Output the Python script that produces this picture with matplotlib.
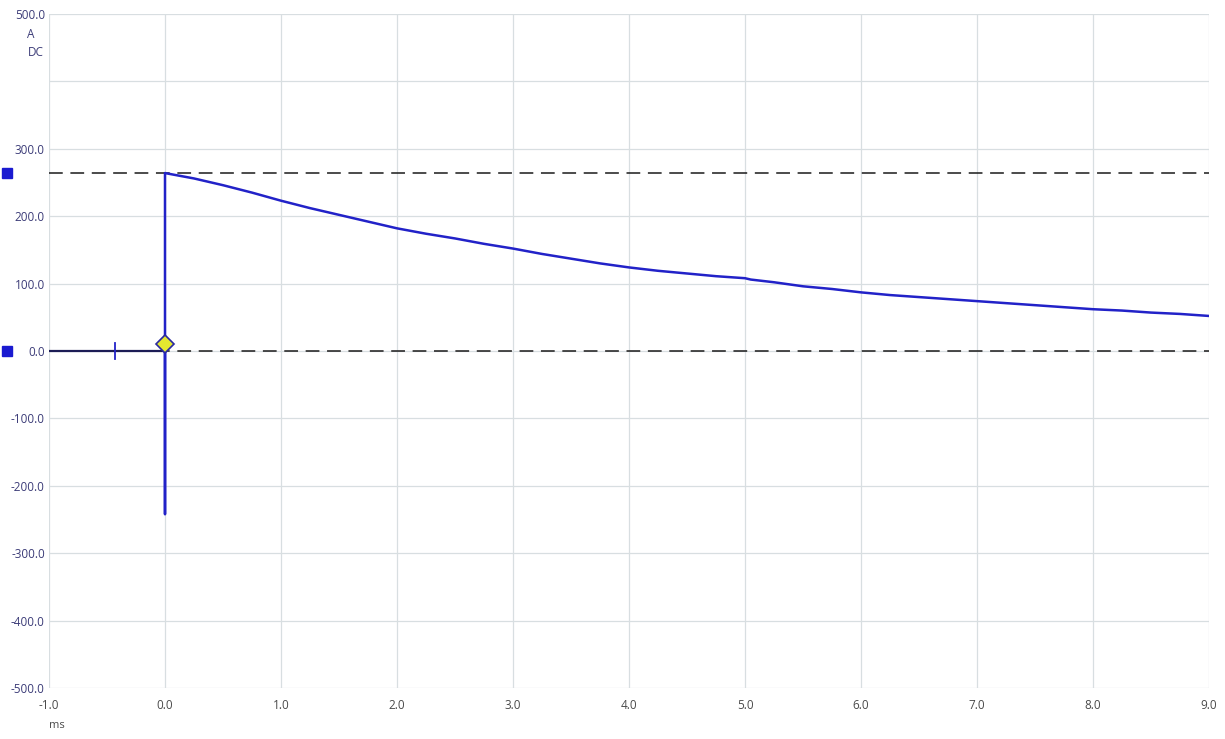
import matplotlib
matplotlib.use("Agg")
import matplotlib.pyplot as plt

plt.rcParams['font.family'] = ['Open Sans', 'DejaVu Sans']

# ---- data ----
time_ms = [-1.0, 0.0, 0.0, 0.0, 0.25, 0.5, 0.75, 1.0, 1.25, 1.5, 1.75, 2.0, 2.25, 2.5,
           2.75, 3.0, 3.25, 3.5, 3.75, 4.0, 4.25, 4.5, 4.75, 5.0, 5.05, 5.25, 5.5,
           5.75, 6.0, 6.25, 6.5, 6.75, 7.0, 7.25, 7.5, 7.75, 8.0, 8.25, 8.5, 8.75, 9.0]
current_a = [0, 0, -242, 264, 256, 246, 235, 223, 212, 202, 192, 182, 174, 167,
             159, 152, 144, 137, 130, 124, 119, 115, 111, 108, 106, 102, 96,
             92, 87, 83, 80, 77, 74, 71, 68, 65, 62, 60, 57, 55, 52]
cursor_levels = [264, 0]
trigger_time = -0.43
trigger_marker = (0.0, 10)

x_ticks = [-1.0, 0.0, 1.0, 2.0, 3.0, 4.0, 5.0, 6.0, 7.0, 8.0, 9.0]
y_ticks = [500, 400, 300, 200, 100, 0, -100, -200, -300, -400, -500]
y_tick_labels = ['500.0', '', '300.0', '200.0', '100.0', '0.0', '-100.0', '-200.0',
                 '-300.0', '-400.0', '-500.0']

W, H = 1225, 739
fig = plt.figure(figsize=(W / 100, H / 100), dpi=100)
ax = fig.add_axes([49/W, 1-688/H, (1209-49)/W, (688-14)/H])
ax.set_xlim(-1.0, 9.0)
ax.set_ylim(-500, 500)

for s in ax.spines.values():
    s.set_visible(False)
ax.set_xticks(x_ticks)
ax.set_yticks(y_ticks)
ax.grid(True, color='#d8dee1', linewidth=0.9)
ax.set_axisbelow(True)
ax.tick_params(length=0)
ax.set_xticklabels(['%.1f' % v for v in x_ticks], color='#4a4a4a', fontsize=8.5)
ax.set_yticklabels(y_tick_labels, color='#3c3c78', fontsize=8.5)
ax.tick_params(axis='x', pad=8)
ax.tick_params(axis='y', pad=3)

# cursor lines
for lv in cursor_levels:
    ax.axhline(lv, color='#1a1a1a', linewidth=1.1, dashes=(9, 5), zorder=3)

# pre-trigger segment
pre_n = 2
ax.plot(time_ms[:pre_n], current_a[:pre_n], color='#1c1c55', linewidth=1.6, zorder=4)
# main trace
ax.plot(time_ms[1:], current_a[1:], color='#2222c8', linewidth=1.8, zorder=5,
        solid_joinstyle='round')

# trigger tick
ax.plot([trigger_time, trigger_time], [-12, 12], color='#2222c8', linewidth=1.3, zorder=5)
# trigger diamond
ax.plot([trigger_marker[0]], [trigger_marker[1]], marker='D', markersize=9,
        markerfacecolor='#e4e830', markeredgecolor='#2a2aa0', markeredgewidth=1.2,
        zorder=6, clip_on=False)

# left side cursor squares
for lv in cursor_levels:
    ax.plot([-1.36], [lv], marker='s', markersize=6.5, color='#1a1ad0',
            clip_on=False, zorder=6)

# unit labels
fig.text(31/W, 1-34/H, 'A', color='#3c3c78', fontsize=8.5, ha='center', va='center')
fig.text(36/W, 1-53/H, 'DC', color='#3c3c78', fontsize=8.5, ha='center', va='center')
fig.text(57/W, 1-726/H, 'ms', color='#4a4a4a', fontsize=8, ha='center', va='center')

fig.savefig('out.png', dpi=100, facecolor='white')
